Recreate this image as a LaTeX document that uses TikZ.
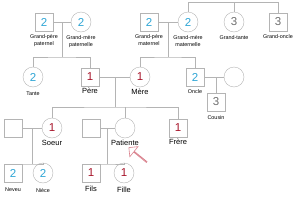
\documentclass[tikz,border=0pt]{standalone}
\usepackage{fontspec}
\setmainfont{Liberation Sans}
\usetikzlibrary{positioning, shapes.arrows}
\definecolor{lineg}{HTML}{B4B4B4}
\definecolor{numred}{HTML}{A8142A}
\definecolor{numblue}{HTML}{2FA6D6}
\definecolor{numgray}{HTML}{6E6E6E}
\definecolor{ptrred}{HTML}{D9808C}

\begin{document}
\begin{tikzpicture}[x=1pt, y=-1pt,
  male/.style={rectangle, draw=lineg, fill=white, minimum size=18pt, inner sep=0pt, font=\fontsize{11.5}{11.5}\selectfont},
  female/.style={circle, draw=lineg, fill=white, minimum size=20pt, inner sep=0pt, font=\fontsize{11.5}{11.5}\selectfont},
  rel/.style={draw=lineg, line width=0.6pt},
  small/.style={font=\fontsize{5.4}{7}\selectfont, align=center, inner sep=0pt},
  big/.style={font=\fontsize{7.5}{8}\selectfont, inner sep=0pt},
  d1/.style={text=numred}, d2/.style={text=numblue}, d3/.style={text=numgray},
  ptr/.style={single arrow, draw=ptrred, fill=white, line width=0.6pt, minimum height=23pt, minimum width=13pt,
    single arrow head extend=3.5pt, single arrow head indent=0pt, inner sep=0pt}
]
  \useasboundingbox (0,0) rectangle (300,201);

  % Grands-parents et grands-oncles
  \node[male, d2] (gpp) at (44,22) {2};
  \node[female, d2] (gmp) at (81,22) {2};
  \node[male, d2] (gpm) at (149,22) {2};
  \node[female, d2] (gmm) at (188,22) {2};
  \node[female, d3] (gta) at (234,22) {3};
  \node[male, d3] (gon) at (278,22) {3};

  % Parents, oncle, tante
  \node[female, d2] (tante) at (33,77) {2};
  \node[male, d1] (pere) at (90,77) {1};
  \node[female, d1] (mere) at (140,77) {1};
  \node[male, d2] (oncle) at (195,77) {2};
  \node[female] (epouse) at (234,77) {};
  \node[male, d3] (cousin) at (216,102) {3};

  % Fratrie et conjoints
  \node[male] (bfrere) at (13,128) {};
  \node[female, d1] (soeur) at (52,128) {1};
  \node[male] (mari) at (91,128) {};
  \node[female] (pat) at (125,128) {};
  \node[male, d1] (frere) at (178,128) {1};

  % Enfants
  \node[male, d2] (neveu) at (13,173) {2};
  \node[female, d2] (niece) at (43,173) {2};
  \node[male, d1] (fils) at (91,173) {1};
  \node[female, d1] (fille) at (124,173) {1};

  % Liens
  \coordinate (ggl) at (188,2);
  \coordinate (ggr) at (278,2);
  \draw[rel] (gmm) -- (ggl) -- (ggr) -- (gon);
  \draw[rel] (gta) -- (gta |- ggl);

  \coordinate (pc) at (62,22);
  \coordinate (pb) at (62,57);
  \draw[rel] (gpp) -- (gmp);
  \draw[rel] (pc) -- (pb);
  \draw[rel] (tante) |- (pb) -| (pere);

  \coordinate (mc) at (168,22);
  \coordinate (mb) at (168,57);
  \draw[rel] (gpm) -- (gmm);
  \draw[rel] (mc) -- (mb);
  \draw[rel] (mere) |- (mb) -| (oncle);

  \draw[rel] (oncle) -- (epouse);
  \draw[rel] (cousin) -- (cousin |- oncle);

  \coordinate (fc) at (115,77);
  \coordinate (fb) at (115,107);
  \draw[rel] (pere) -- (mere);
  \draw[rel] (fc) -- (fb);
  \draw[rel] (soeur) |- (fb) -| (frere);
  \draw[rel] (pat) -- (pat |- fb);

  \coordinate (sc) at (32,128);
  \coordinate (sb) at (32,164);
  \draw[rel] (bfrere) -- (soeur);
  \draw[rel] (sc) -- (sb);
  \draw[rel] (neveu) |- (sb) -| (niece);

  \coordinate (kc) at (107,128);
  \coordinate (kb) at (107,164);
  \draw[rel] (mari) -- (pat);
  \draw[rel] (kc) -- (kb);
  \draw[rel] (fils) |- (kb) -| (fille);

  % Etiquettes
  \node[small, below=3pt of gpp] (lgpp) {Grand-père\\paternel};
  \node[small, below=3pt of gmp] (lgmp) {Grand-mère\\paternelle};
  \node[small, below=3pt of gpm] (lgpm) {Grand-père\\maternel};
  \node[small, below=3pt of gmm] (lgmm) {Grand-mère\\maternelle};
  \node[small, below=3pt of gta] (lgta) {Grand-tante};
  \node[small, below=3pt of gon] (lgon) {Grand-oncle};
  \node[small, below=4pt of tante] (ltante) {Tante};
  \node[big, below=1.5pt of pere] (lpere) {Père};
  \node[big, below=2pt of mere] (lmere) {Mère};
  \node[small, below=3pt of oncle] (loncle) {Oncle};
  \node[small, below=4pt of cousin] (lcousin) {Cousin};
  \node[big, below=2pt of soeur] (lsoeur) {Soeur};
  \node[big, below=2pt of pat] (lpat) {Patiente};
  \node[big, below=2pt of frere] (lfrere) {Frère};
  \node[small, below=5pt of neveu] (lneveu) {Neveu};
  \node[small, below=5pt of niece] (lniece) {Nièce};
  \node[big, below=4pt of fils] (lfils) {Fils};
  \node[big, below=4pt of fille] (lfille) {Fille};

  % Fleche vers la patiente
  \node[ptr, rotate=141] (fleche) at (138,155) {};
\end{tikzpicture}
\end{document}
